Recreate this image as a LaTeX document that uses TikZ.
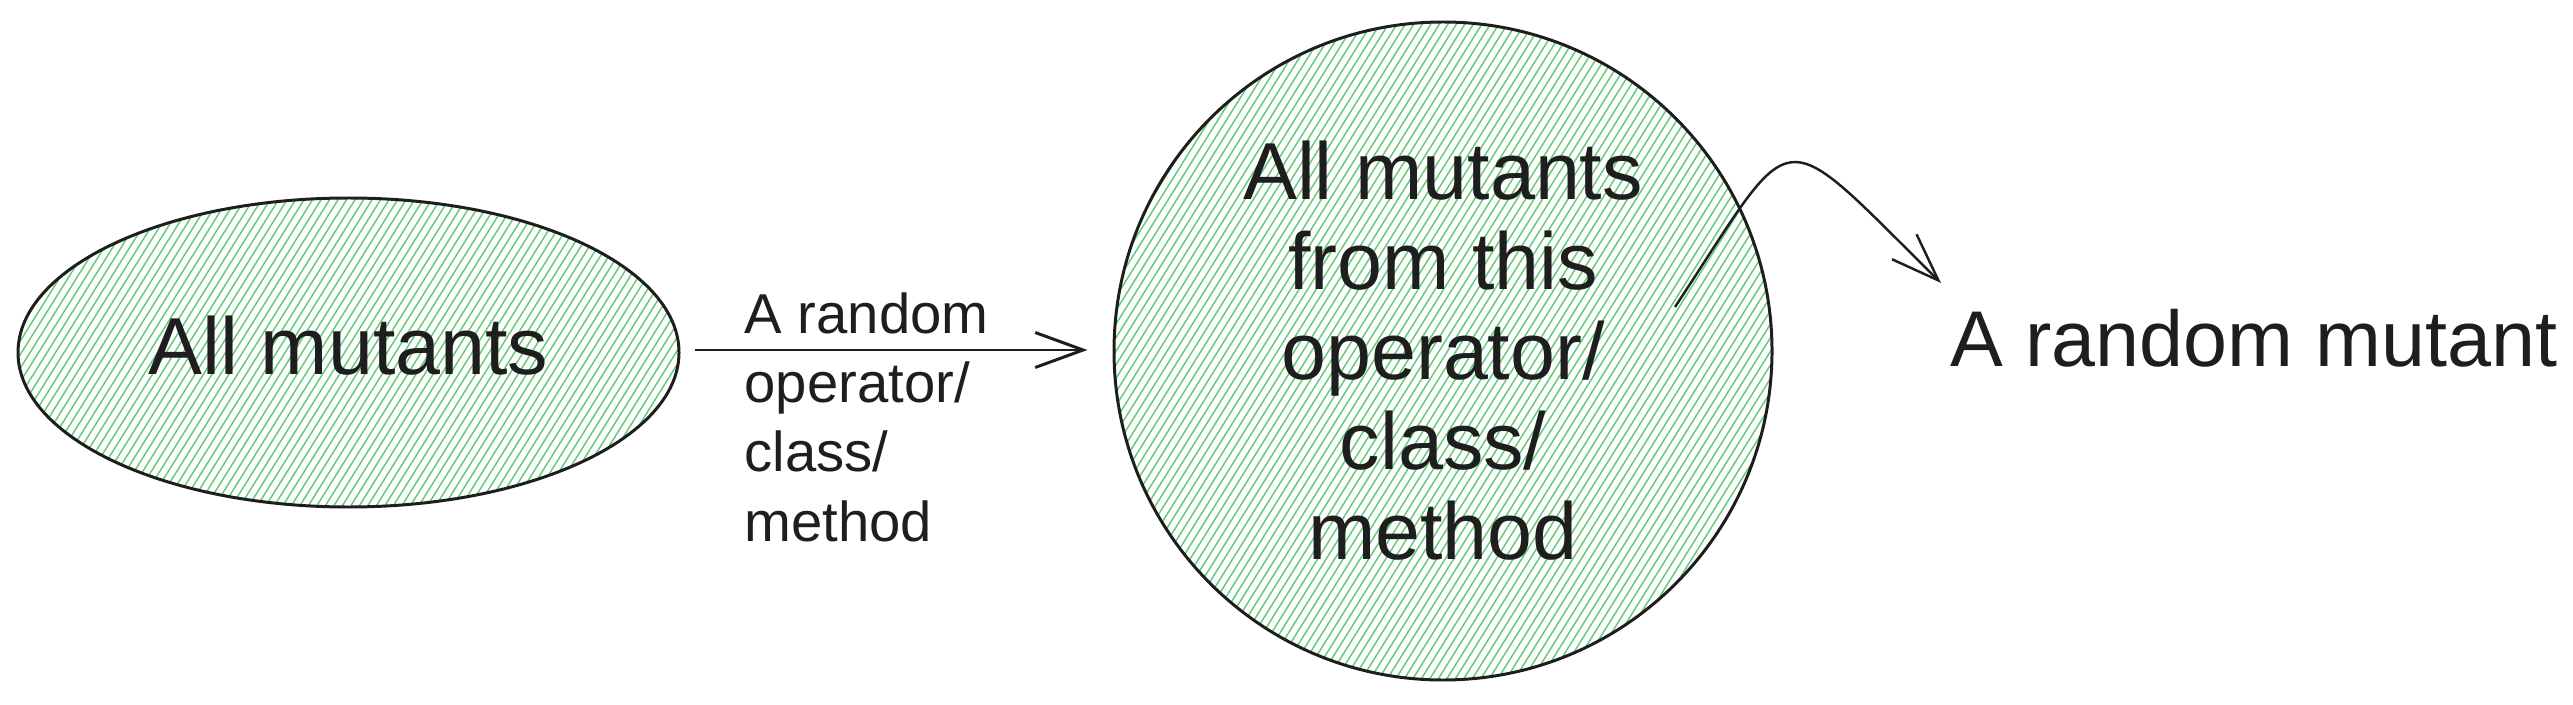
\documentclass[tikz,border=0pt]{standalone}
\usepackage{fontspec}
\setmainfont{Liberation Sans}
\usetikzlibrary{arrows.meta,shapes.geometric,calc}
\definecolor{inkblack}{HTML}{1E1E1E}
\definecolor{hatchgreen}{HTML}{5CCB74}

\begin{document}
\begin{tikzpicture}[
    maintext/.style={font=\fontsize{23}{25.6}\selectfont, text=inkblack},
    lbltext/.style={font=\fontsize{16}{19.7}\selectfont, text=inkblack},
    hatched/.style={path picture={
        \foreach \i in {0,...,140}
            \draw[hatchgreen, line width=0.4pt]
                ([xshift={\i*0.085cm-4.5cm}]path picture bounding box.south west) -- ++(58:8.2);
    }},
    blob/.style={draw=inkblack, line width=0.85pt, hatched, inner sep=0pt},
    arrow/.style={-{Straight Barb[length=4.8mm,width=3.5mm]}, draw=inkblack, line width=0.85pt}
]
\useasboundingbox (0,0) rectangle (25.73,7.04);

\node[blob, ellipse, minimum width=6.61cm, minimum height=3.09cm, maintext, text depth=1.4mm] (allm) at (3.485,3.515) {All mutants};
\node[blob, circle, minimum size=6.58cm, maintext, align=center] (sub) at (14.43,3.53) {All mutants\\from this\\operator/\\class/\\method};
\node[lbltext, align=left, anchor=north west, inner sep=0pt] (lbl) at (7.44,4.12) {A random\\operator/\\class/\\method};
\node[maintext, font=\fontsize{22.5}{25}\selectfont, anchor=base west, inner sep=0pt] (rmut) at (19.50,3.38) {A random mutant};

\coordinate (src) at ($(sub.center)+(2.32,0.44)$);
\coordinate (tip) at ($(rmut.base west)+(-0.09,0.83)$);

\draw[arrow, shorten <=1.4mm, shorten >=2.5mm] ([yshift=0.25mm]allm.east) -- ([yshift=0.1mm]sub.west);
\draw[arrow, line width=0.7pt] (src) .. controls +(56.6:2.25) and +(135.4:2.35) .. (tip);
\end{tikzpicture}
\end{document}
